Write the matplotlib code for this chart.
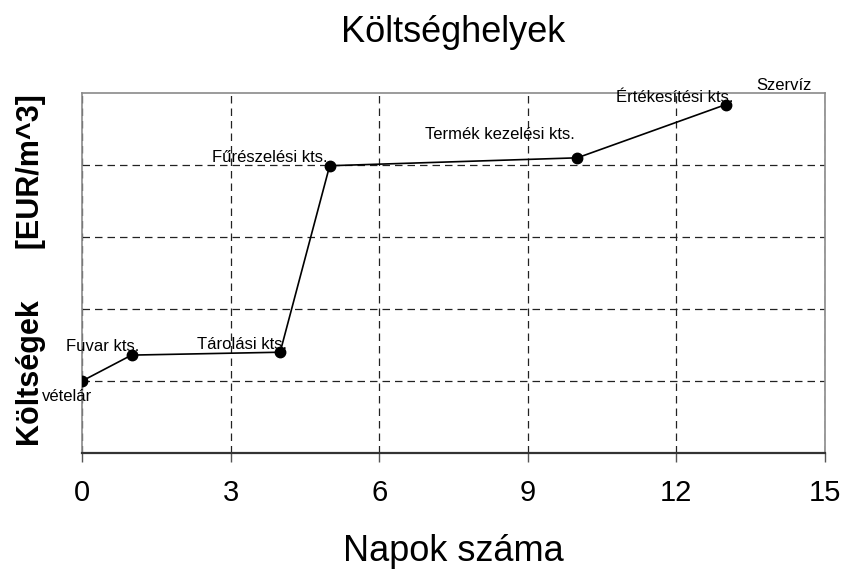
import matplotlib
matplotlib.use("Agg")
import matplotlib.pyplot as plt

# --- data -------------------------------------------------------------
days = [0, 1, 4, 5, 10, 13]
costs = [1.0, 1.36, 1.40, 3.99, 4.10, 4.84]
labels = ["vételár", "Fuvar kts.", "Tárolási kts.", "Fűrészelési kts.",
          "Termék kezelési kts.", "Értékesítési kts."]
label_offsets = [(-15, -15), (-29, 9), (-38, 8), (-60, 8), (-77, 23), (-51, 7)]
x_ticks = [0, 3, 6, 9, 12, 15]
y_grid = [1, 2, 3, 4]

plt.rcParams["font.family"] = "Liberation Sans"

fig = plt.figure(figsize=(8.43, 5.76), dpi=100)
ax = fig.add_axes([0.0973, 0.2135, 0.8813, 0.625])

ax.plot(days, costs, "-", color="black", lw=1.2, zorder=3)
ax.plot(days, costs, "o", color="black", ms=7.5, zorder=4)

for x, y, lab, off in zip(days, costs, labels, label_offsets):
    ax.annotate(lab, (x, y), xytext=off, textcoords="offset pixels",
                ha="center", va="center", fontsize=12, annotation_clip=False)
ax.annotate("Szervíz", (days[-1], costs[-1]), xytext=(58, 19),
            textcoords="offset pixels", ha="center", va="center",
            fontsize=12, annotation_clip=False)

ax.set_xlim(0, 15)
ax.set_ylim(0, 5)
ax.set_xticks(x_ticks)
ax.set_xticklabels([str(t) for t in x_ticks], fontsize=21)
ax.set_yticks(y_grid)
ax.tick_params(axis="y", left=False, labelleft=False)
ax.tick_params(axis="x", direction="out", length=6.5, width=1,
               color="#555555", pad=12)
ax.grid(True, ls=(0, (6, 4)), color="#222222", lw=0.9)
ax.set_axisbelow(True)

for s in ["left", "top", "right"]:
    ax.spines[s].set_color("#8a8a8a")
    ax.spines[s].set_linewidth(1.2)
ax.spines["bottom"].set_color("#333333")
ax.spines["bottom"].set_linewidth(1.6)

ax.set_xlabel("Napok száma", fontsize=26, labelpad=20)
ax.set_title("Költséghelyek", fontsize=26, pad=37)
fig.text(31 / 843, 0.531, "Költségek      [EUR/m^3]", rotation=90,
         ha="center", va="center", fontsize=22, fontweight="bold")

fig.savefig("out.png", dpi=100)
